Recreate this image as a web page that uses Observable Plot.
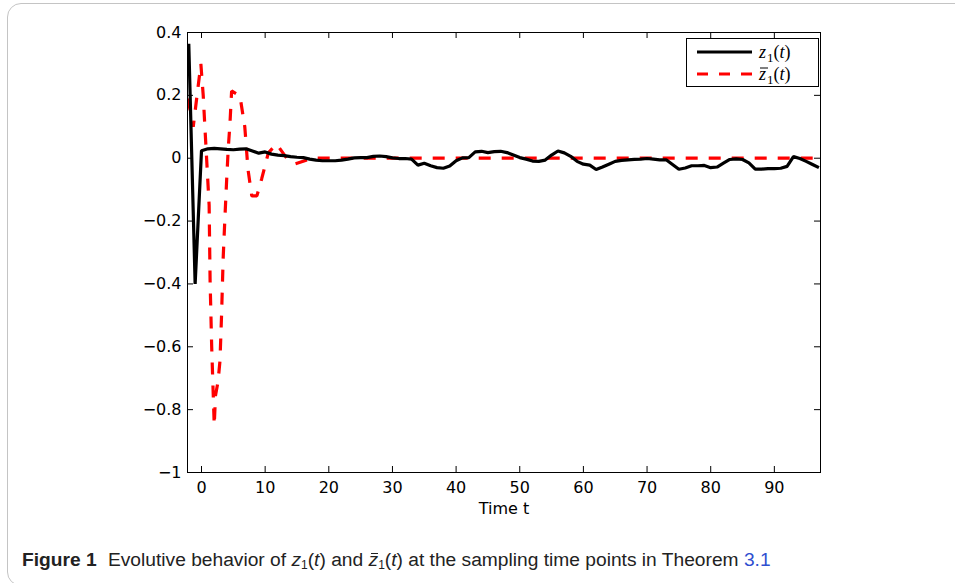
<!DOCTYPE html>
<html>
<head>
<meta charset="utf-8">
<script src="https://cdn.jsdelivr.net/npm/d3@7"></script>
<script src="https://cdn.jsdelivr.net/npm/@observablehq/plot@0.6"></script>
<style>
  html, body { margin: 0; padding: 0; background: #fff; }
  body { width: 955px; height: 583px; position: relative; overflow: hidden; }
  #border { position: absolute; left: 7px; top: 3px; width: 970px; height: 583px;
            border: 1px solid #c4c4c4; border-radius: 14px; box-sizing: border-box; }
  #chart { position: absolute; left: 0; top: 0; }
  #caption { position: absolute; left: 22px; top: 548px; font-family: "Liberation Sans", Arial, sans-serif;
             font-size: 19.2px; line-height: 24px; color: #222; white-space: nowrap; }
  #caption b { font-weight: bold; margin-right: 6px; }
  #caption .ref { color: #2f4fd0; }
  #caption sub { font-size: 12px; vertical-align: -3px; line-height: 0; }
  #caption .bar { position: relative; display: inline-block; }
  #caption .bar::before { content: ""; position: absolute; left: 2px; right: 0; top: 5px; border-top: 1.2px solid #222; }
</style>
</head>
<body>
<div id="border"></div>
<div id="chart"></div>
<div id="caption"><b>Figure 1</b> Evolutive behavior of <i>z</i><sub>1</sub>(<i>t</i>) and <i class="bar">z</i><sub>1</sub>(<i>t</i>) at the sampling time points in Theorem <span class="ref">3.1</span></div>
<script>
// ---- data ----
const xTicks = [0, 10, 20, 30, 40, 50, 60, 70, 80, 90];
const yTicks = [-1, -0.8, -0.6, -0.4, -0.2, 0, 0.2, 0.4];
const xLabel = "Time t";

// z1(t): sampled at t = -2, -1, 0, ..., 97
const blackT = d3.range(-2, 98);
const blackV = [
  0.364, -0.400, 0.024, 0.030, 0.031, 0.030, 0.028, 0.027, 0.029, 0.030,
  0.023, 0.016, 0.020, 0.013, 0.010, 0.008, 0.005, 0.003, 0.002, -0.003,
  -0.006, -0.008, -0.008, -0.008, -0.006, -0.003, 0.001, 0.002, 0.002, 0.006,
  0.007, 0.005, 0.001, -0.001, -0.001, -0.003, -0.022, -0.016, -0.024, -0.030,
  -0.032, -0.025, -0.008, 0.001, 0.002, 0.020, 0.022, 0.018, 0.021, 0.022,
  0.018, 0.010, 0.002, -0.003, -0.009, -0.010, -0.006, 0.010, 0.023, 0.017,
  0.006, -0.010, -0.019, -0.022, -0.036, -0.028, -0.019, -0.010, -0.007, -0.005,
  -0.004, -0.003, -0.001, -0.003, -0.005, -0.005, -0.020, -0.035, -0.031, -0.024,
  -0.024, -0.023, -0.030, -0.028, -0.016, -0.004, -0.002, -0.004, -0.015, -0.035,
  -0.035, -0.033, -0.033, -0.032, -0.026, 0.005, -0.001, -0.010, -0.020, -0.030
];

// zbar1(t)
const redT = [-2.14, -1.3, -0.1, 0.27, 0.53, 0.8, 1.2, 1.35, 1.6, 1.84, 2.0, 2.2, 2.6, 2.9, 3.15, 3.4, 3.7, 3.95, 4.2, 4.47, 4.73, 6.04, 6.8, 7.3, 7.9, 8.7, 9.45, 10.5, 11.8, 13.4, 14.7, 17.5, 98];
const redV = [0.19, 0.10, 0.30, 0.20, 0.10, 0.0, -0.15, -0.39, -0.60, -0.75, -0.85, -0.755, -0.71, -0.645, -0.50, -0.32, -0.18, -0.07, 0.03, 0.11, 0.214, 0.198, 0.10, -0.035, -0.12, -0.12, -0.066, 0.017, 0.045, 0.0, -0.018, 0.0, 0.0];

const black = blackT.map((t, i) => ({t, v: blackV[i]}));
const red = redT.map((t, i) => ({t, v: redV[i]}));

// ---- layout ----
const W = 955, H = 520;
const mL = 187, mR = 135, mT = 32, mB = 48;
const innerW = W - mL - mR, innerH = H - mT - mB;
const tickLen = 6;
const font = "'DejaVu Sans', sans-serif";

const fmt = d => d3.format("")(d);

const plot = Plot.plot({
  width: W, height: H,
  marginLeft: mL, marginRight: mR, marginTop: mT, marginBottom: mB,
  style: {fontFamily: font, fontSize: "16px", color: "black", background: "transparent"},
  x: {domain: [-2.2, 97.25]},
  y: {domain: [-1, 0.4]},
  marks: [
    Plot.axisX(xTicks, {tickSize: 0, tickPadding: 9, tickFormat: fmt, label: null, fontSize: 16}),
    Plot.axisY(yTicks, {tickSize: 0, tickPadding: 6, tickFormat: fmt, label: null, fontSize: 16}),
    Plot.tickX(xTicks, {x: d => d, stroke: "black", insetTop: innerH - tickLen}),
    Plot.tickX(xTicks, {x: d => d, stroke: "black", insetBottom: innerH - tickLen}),
    Plot.tickY(yTicks, {y: d => d, stroke: "black", insetRight: innerW - tickLen}),
    Plot.tickY(yTicks, {y: d => d, stroke: "black", insetLeft: innerW - tickLen}),
    Plot.line(red, {x: "t", y: "v", stroke: "#ff0000", strokeWidth: 3.2, strokeDasharray: "12,11", strokeLinejoin: "miter", strokeLinecap: "butt", clip: true}),
    Plot.line(black, {x: "t", y: "v", stroke: "black", strokeWidth: 3.2, strokeLinejoin: "miter", strokeLinecap: "butt", clip: true}),
    Plot.frame({stroke: "black", strokeWidth: 1}),
    Plot.text([xLabel], {frameAnchor: "bottom", dy: 41, fontSize: 16, fill: "black"})
  ]
});
document.getElementById("chart").appendChild(plot);

// ---- legend ----
const svg = d3.select(plot);
const lg = svg.append("g").attr("transform", "translate(686,38)").attr("text-anchor", "start");
lg.append("rect").attr("x", 0.5).attr("y", 0.5).attr("width", 132).attr("height", 48)
  .attr("fill", "white").attr("stroke", "black").attr("stroke-width", 1);
lg.append("line").attr("x1", 11).attr("x2", 66).attr("y1", 14).attr("y2", 14)
  .attr("stroke", "black").attr("stroke-width", 3.2);
lg.append("line").attr("x1", 11).attr("x2", 66).attr("y1", 36).attr("y2", 36)
  .attr("stroke", "#ff0000").attr("stroke-width", 3.2).attr("stroke-dasharray", "11,11");
const serif = "'Liberation Serif', 'DejaVu Serif', serif";
function entry(y, bar) {
  const t = lg.append("text").attr("x", 73).attr("y", y).attr("text-anchor", "start")
    .attr("font-family", serif).attr("font-size", 18).attr("fill", "black");
  t.append("tspan").attr("font-style", "italic").text("z");
  t.append("tspan").attr("font-size", 13).attr("dy", 4).attr("dx", 1).text("1");
  t.append("tspan").attr("dy", -4).text("(");
  t.append("tspan").attr("font-style", "italic").text("t");
  t.append("tspan").text(")");
  if (bar) lg.append("line").attr("x1", 74).attr("x2", 82).attr("y1", y - 12).attr("y2", y - 12).attr("stroke", "black").attr("stroke-width", 1);
}
entry(20, false);
entry(42, true);
</script>
</body>
</html>
